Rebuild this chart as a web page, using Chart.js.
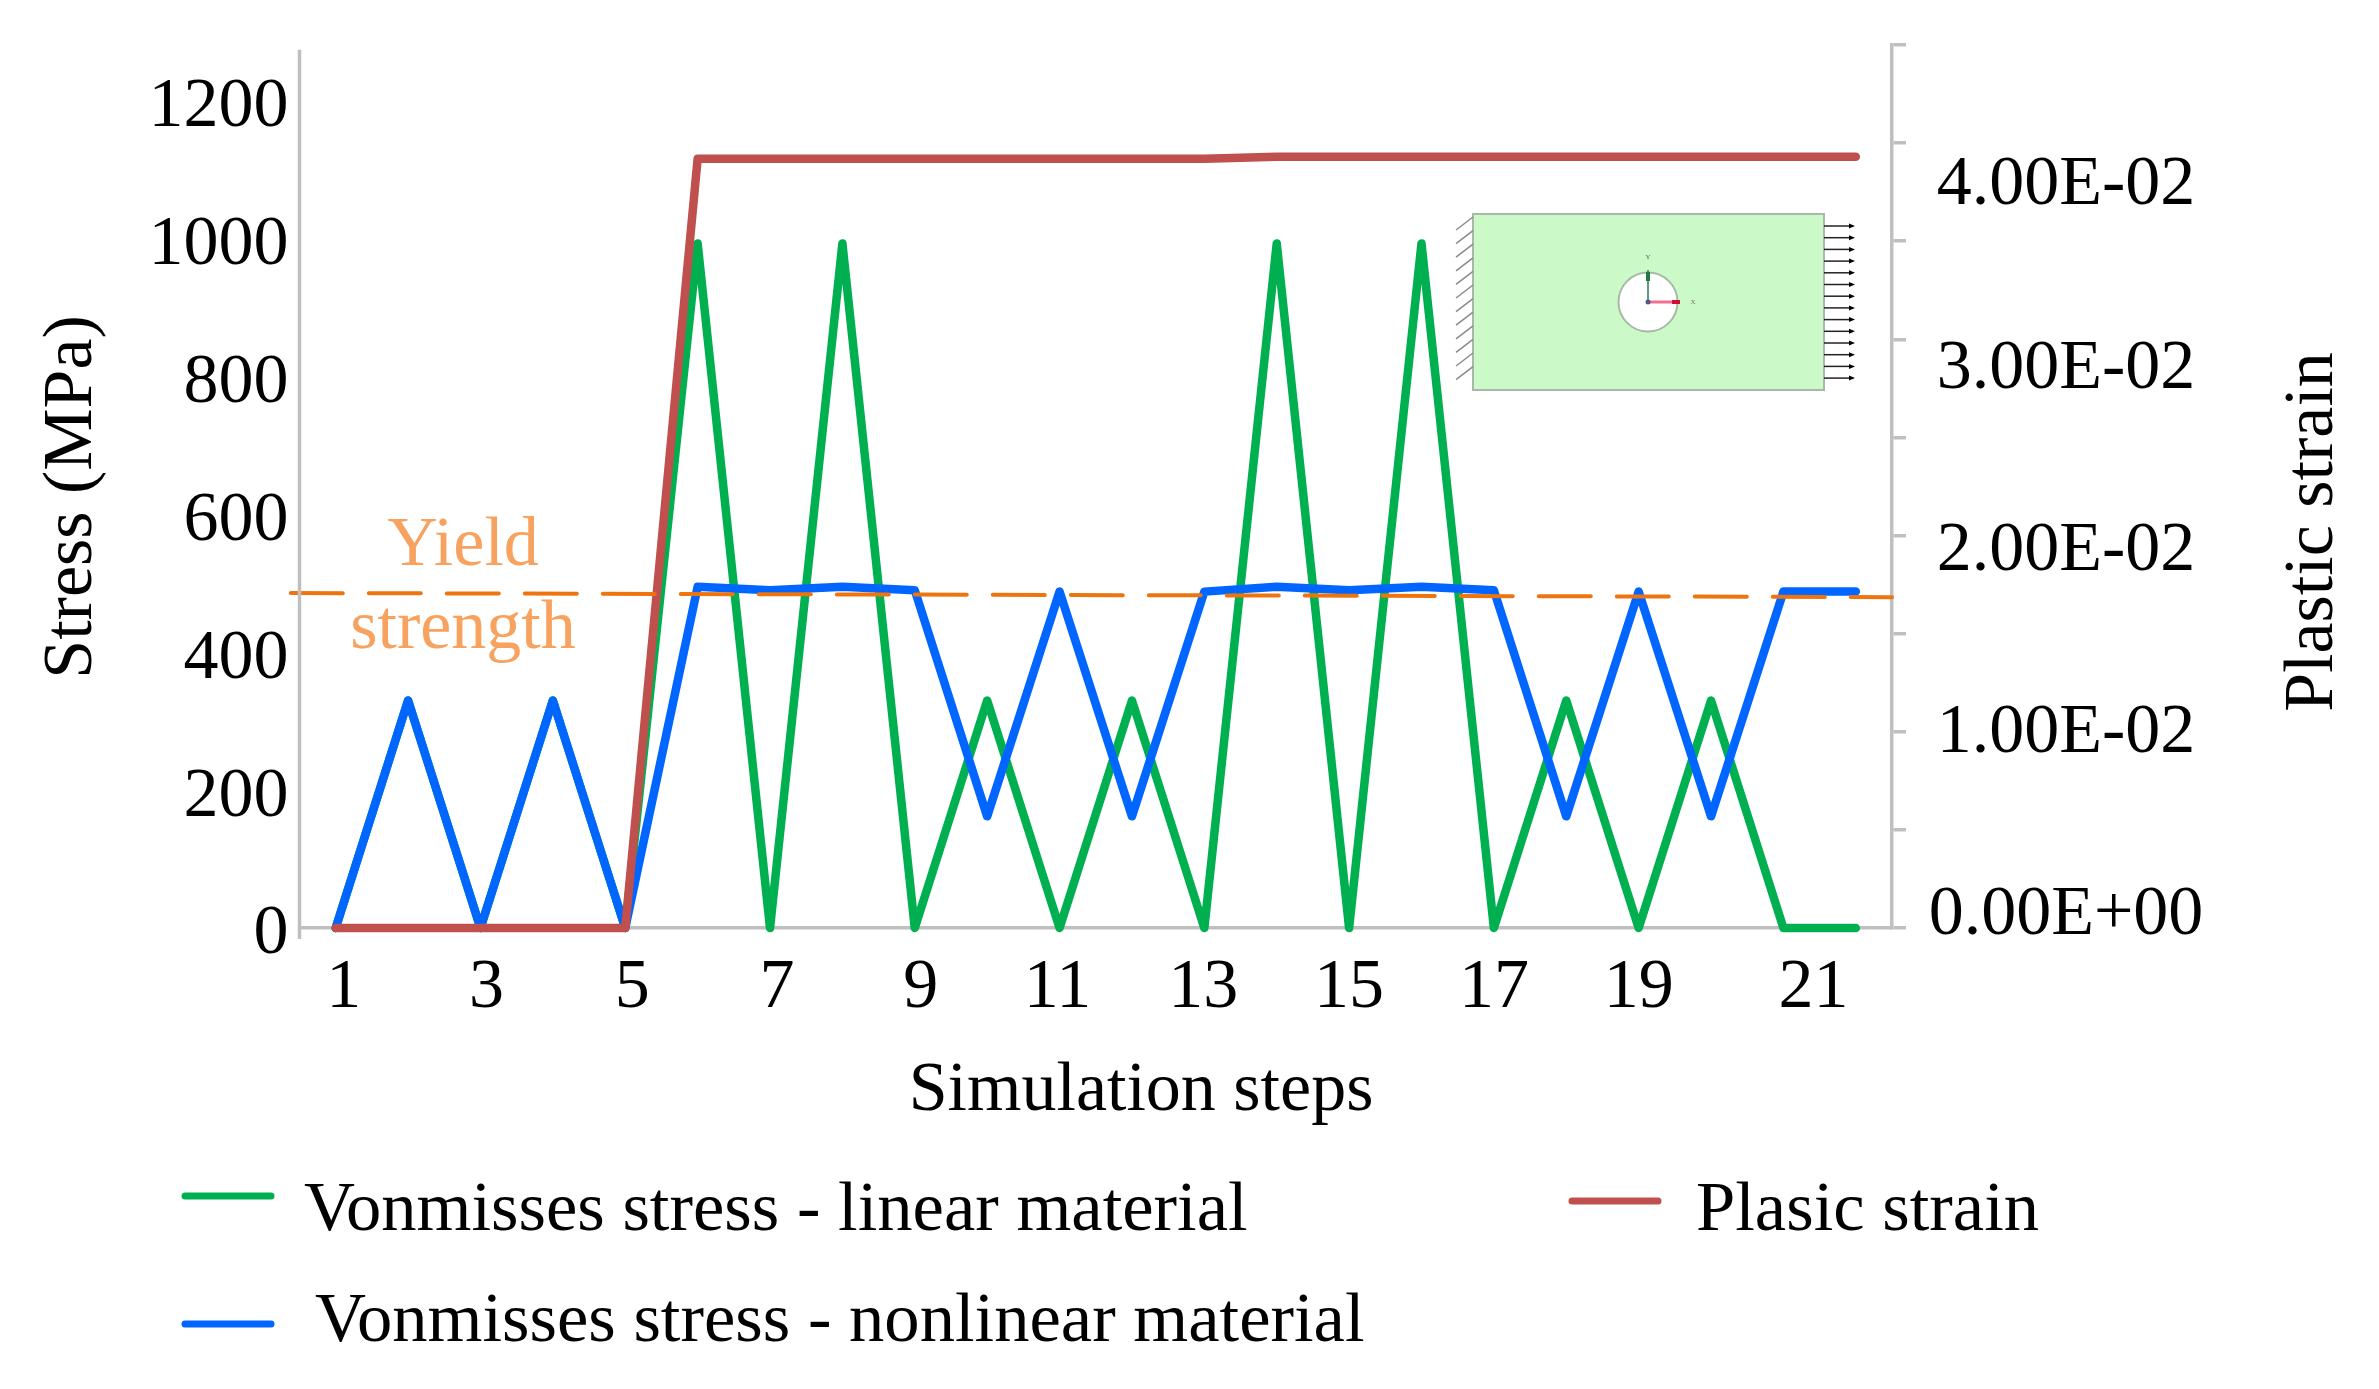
<!DOCTYPE html>
<html>
<head>
<meta charset="utf-8">
<style>
  html, body { margin: 0; padding: 0; background: #fff; }
  canvas { display: block; }
</style>
<script src="https://cdn.jsdelivr.net/npm/chart.js@4"></script>
</head>
<body>
<canvas id="stress-chart" width="2379" height="1389"></canvas>
<script>
const steps = [1,2,3,4,5,6,7,8,9,10,11,12,13,14,15,16,17,18,19,20,21,22];
const linearStress = [0,330,0,330,0,993,0,993,0,330,0,330,0,993,0,993,0,330,0,330,0,0];
const nonlinearStress = [0,330,0,330,0,495,490,495,490,162,488,162,488,495,490,495,490,162,488,162,488,488];
const plasticStrain = [0,0,0,0,0,0.0392,0.0392,0.0392,0.0392,0.0392,0.0392,0.0392,0.0392,0.0393,0.0393,0.0393,0.0393,0.0393,0.0393,0.0393,0.0393,0.0393];
const yieldSteps = [0.38,22.5];
const yieldStress = [486,480];
const stepTicks = [1,3,5,7,9,11,13,15,17,19,21];
const stressTicks = [0,200,400,600,800,1000,1200];
const strainTicks = [0,0.005,0.01,0.015,0.02,0.025,0.03,0.035,0.04,0.045];
const strainLabels = [0,0.01,0.02,0.03,0.04];

const SERIF = '"Liberation Serif", serif';
const FONT = '70px ' + SERIF;
const GREY = '#BFBFBF';
const GREEN = '#00B050';
const BLUE = '#0066FF';
const RED = '#C0504D';
const ORANGE = '#EE7410';

function pairs(xs, ys) { return xs.map((x, i) => ({x: x, y: ys[i]})); }

// the original labels were moved by hand, so they sit a bit off their ticks
const stepNudge = [8,6,7,7,6,-2,-1,0,0,0,30];
const strainNudge = [-12,2,16,30,42];

function text(ctx, str, x, y, align, color) {
  ctx.fillStyle = color || '#000';
  ctx.textAlign = align || 'center';
  ctx.textBaseline = 'middle';
  ctx.fillText(str, x, y);
}

const annotations = {
  id: 'annotations',
  afterDraw(chart) {
    const {ctx, scales: {x, y, y1}} = chart;
    ctx.save();

    // left axis line, stops a bit under the top and runs past the baseline
    ctx.strokeStyle = GREY;
    ctx.lineWidth = 3.5;
    ctx.beginPath();
    ctx.moveTo(x.left, y.getPixelForValue(1274));
    ctx.lineTo(x.left, y.bottom + 11);
    ctx.stroke();

    ctx.font = FONT;
    stepTicks.forEach((s, i) => text(ctx, String(s), x.getPixelForValue(s) + stepNudge[i], 989));
    strainLabels.forEach((v, i) => {
      text(ctx, v === 0 ? '0.00E+00' : v.toExponential(2).replace('e-', 'E-0'), 2066, y1.getPixelForValue(v) + strainNudge[i]);
    });

    text(ctx, 'Simulation steps', 1141, 1092);
    ctx.save();
    ctx.translate(73, 497);
    ctx.rotate(-Math.PI / 2);
    text(ctx, 'Stress (MPa)', 0, 0);
    ctx.restore();
    ctx.save();
    ctx.translate(2314, 532);
    ctx.rotate(-Math.PI / 2);
    text(ctx, 'Plastic strain', 0, 0);
    ctx.restore();

    text(ctx, 'Yield', 463, 547, 'center', '#F8A25F');
    text(ctx, 'strength', 463, 630, 'center', '#F8A25F');

    // legend
    const legend = [
      ['Vonmisses stress - linear material', GREEN, 185, 1196, 304, 1211],
      ['Plasic strain', RED, 1572, 1201, 1696, 1211],
      ['Vonmisses stress - nonlinear material', BLUE, 185, 1324, 315, 1322]
    ];
    ctx.font = '70.6px ' + SERIF;
    legend.forEach(([label, color, lx, ly, tx, ty]) => {
      ctx.strokeStyle = color;
      ctx.lineWidth = 7;
      ctx.lineCap = 'round';
      ctx.beginPath();
      ctx.moveTo(lx, ly);
      ctx.lineTo(lx + 86, ly);
      ctx.stroke();
      text(ctx, label, tx, ty, 'left');
    });

    drawInset(ctx);
    ctx.restore();
  }
};

// small plate-with-hole sketch in the top right of the plot
function drawInset(ctx) {
  ctx.lineCap = 'butt';
  ctx.fillStyle = '#CCF9C8';
  ctx.strokeStyle = '#A9B9A7';
  ctx.lineWidth = 2;
  ctx.fillRect(1473, 214, 351, 176);
  ctx.strokeRect(1473, 214, 351, 176);
  ctx.beginPath();
  ctx.arc(1648, 302, 29.5, 0, Math.PI * 2);
  ctx.fillStyle = '#fff';
  ctx.fill();
  ctx.stroke();

  ctx.strokeStyle = '#8a8a8a';
  ctx.lineWidth = 1.5;
  for (let i = 0; i < 12; i++) {
    const hy = 217 + i * 13.6;
    ctx.beginPath();
    ctx.moveTo(1473, hy);
    ctx.lineTo(1456, hy + 13);
    ctx.stroke();
  }
  ctx.strokeStyle = '#222';
  ctx.fillStyle = '#000';
  for (let i = 0; i < 14; i++) {
    const ay = 226 + i * 11.7;
    ctx.beginPath();
    ctx.moveTo(1824, ay);
    ctx.lineTo(1850, ay);
    ctx.stroke();
    ctx.beginPath();
    ctx.moveTo(1855, ay);
    ctx.lineTo(1849, ay - 2.5);
    ctx.lineTo(1849, ay + 2.5);
    ctx.fill();
  }

  ctx.strokeStyle = '#2E7D4F';
  ctx.lineWidth = 1.5;
  ctx.beginPath();
  ctx.moveTo(1648, 302);
  ctx.lineTo(1648, 270);
  ctx.stroke();
  ctx.strokeStyle = '#F0708F';
  ctx.lineWidth = 3;
  ctx.beginPath();
  ctx.moveTo(1648, 302);
  ctx.lineTo(1680, 302);
  ctx.stroke();
  ctx.fillStyle = '#D01030';
  ctx.fillRect(1672, 300, 8, 4);
  ctx.fillStyle = '#1F7A3D';
  ctx.fillRect(1646, 272, 4, 9);
  ctx.fillStyle = '#55558A';
  ctx.beginPath();
  ctx.arc(1648, 302, 2.5, 0, Math.PI * 2);
  ctx.fill();
  ctx.font = '7px ' + SERIF;
  text(ctx, 'Y', 1648, 257, 'center', '#666');
  text(ctx, 'X', 1693, 302, 'center', '#777');
}

const seriesStyle = {
  borderWidth: 8.5,
  fill: false,
  pointRadius: 0,
  tension: 0,
  borderCapStyle: 'round',
  borderJoinStyle: 'round'
};

new Chart('stress-chart', {
  type: 'line',
  data: {
    datasets: [
      {...seriesStyle, label: 'Yield strength', data: pairs(yieldSteps, yieldStress), yAxisID: 'y', borderColor: ORANGE, backgroundColor: ORANGE, borderWidth: 4, borderDash: [52, 26], clip: false, order: 1},
      {...seriesStyle, label: 'Plasic strain', data: pairs(steps, plasticStrain), yAxisID: 'y1', borderColor: RED, backgroundColor: RED, clip: false, order: 2},
      {...seriesStyle, label: 'Vonmisses stress - nonlinear material', data: pairs(steps, nonlinearStress), yAxisID: 'y', borderColor: BLUE, backgroundColor: BLUE, clip: false, order: 3},
      {...seriesStyle, label: 'Vonmisses stress - linear material', data: pairs(steps, linearStress), yAxisID: 'y', borderColor: GREEN, backgroundColor: GREEN, clip: false, order: 4}
    ]
  },
  options: {
    responsive: false,
    animation: false,
    layout: {padding: {top: 45}},
    plugins: {legend: {display: false}, tooltip: {enabled: false}},
    scales: {
      x: {
        type: 'linear',
        min: 0.5,
        max: 22.5,
        afterFit(s) { s.height = 461; },
        afterBuildTicks(s) { s.ticks = stepTicks.map(v => ({value: v})); },
        grid: {display: false},
        border: {color: GREY, width: 3.5},
        ticks: {display: false}
      },
      y: {
        position: 'left',
        min: 0,
        max: 1281,
        afterFit(s) { s.width = 299.5; s.paddingTop = 0; s.paddingBottom = 0; },
        afterBuildTicks(s) { s.ticks = stressTicks.map(v => ({value: v})); },
        grid: {display: false},
        border: {display: false},
        ticks: {font: {family: SERIF, size: 70}, color: '#000', padding: 3, labelOffset: 7, callback: v => String(v)}
      },
      y1: {
        position: 'right',
        min: 0,
        max: 0.045,
        afterFit(s) { s.width = 487; s.paddingTop = 0; s.paddingBottom = 0; },
        afterBuildTicks(s) { s.ticks = strainTicks.map(v => ({value: v})); },
        grid: {drawOnChartArea: false, color: GREY, lineWidth: 3.5, tickLength: 14},
        border: {color: GREY, width: 3.5},
        ticks: {display: false}
      }
    }
  },
  plugins: [annotations]
});
</script>
</body>
</html>
